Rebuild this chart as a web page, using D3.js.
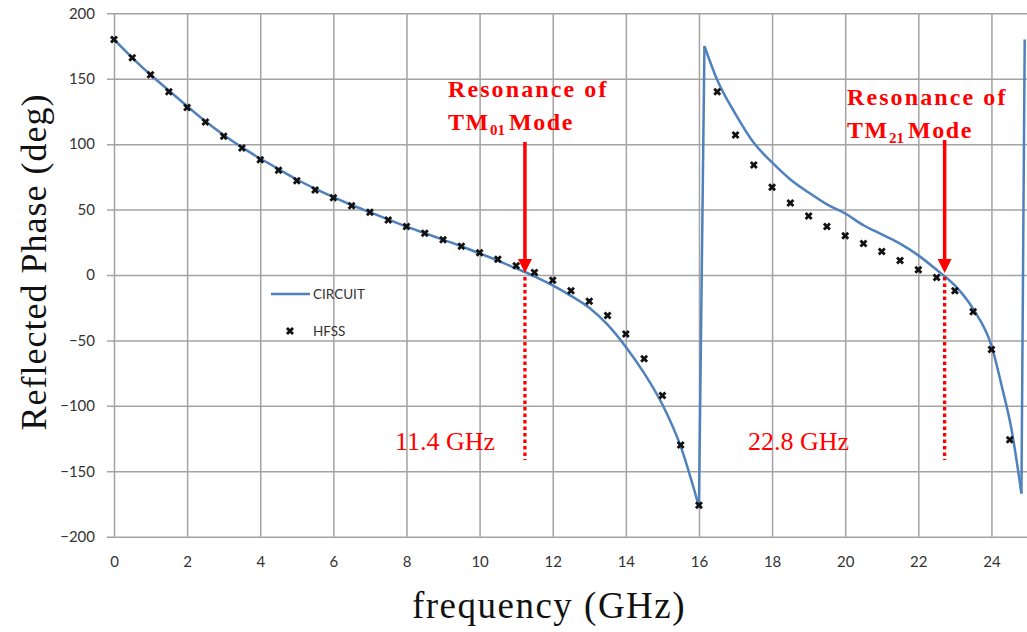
<!DOCTYPE html>
<html><head><meta charset="utf-8">
<script src="https://cdn.jsdelivr.net/npm/d3@7"></script>
<style>body{margin:0;background:#fff}svg{display:block}</style>
</head><body>
<svg id="c" width="1027" height="632"></svg>
<script>
// ---- data ----
const xTicks = [0,2,4,6,8,10,12,14,16,18,20,22,24];
const yTicks = [-200,-150,-100,-50,0,50,100,150,200];
const circuitFreq = [0,0.5,1,1.5,2,2.5,3,3.5,4,4.5,5,5.5,6,6.5,7,7.5,8,8.5,9,9.5,10,10.5,11,11.5,12,12.5,13,13.5,14,14.5,15,15.5,16,
  16.15,16.5,17,17.5,18,18.5,19,19.5,20,20.5,21,21.5,22,22.5,23,23.5,24,24.3,24.55,24.82,24.91];
const circuitPhase = [180,166,153,141,129,117.5,107,97.5,89,81,73,66,59.5,53.5,48,42.5,37,32,27,22,16.5,11,5,-1,-8,-16,-25,-38,-55,-75,-99,-131,-177,
  175,149,123,101,86,73,63,54,47,38,31,24,15,4,-8,-26,-54,-87,-118,-167,180];
const hfssFreq = [0,0.5,1,1.5,2,2.5,3,3.5,4,4.5,5,5.5,6,6.5,7,7.5,8,8.5,9,9.5,10,10.5,11,11.5,12,12.5,13,13.5,14,14.5,15,15.5,16,
  16.5,17,17.5,18,18.5,19,19.5,20,20.5,21,21.5,22,22.5,23,23.5,24,24.5];
const hfssPhase = [180,166,153,140,128,117,106,97,88,80,72,65,59,53,48,42,37,32,27,22,17,12,7,2,-4,-12,-20,-31,-45,-64,-92,-130,-176,
  140,107,84,67,55,45,37,30,24,18,11,4,-2,-12,-28,-57,-126];
const resonances = [11.24, 22.72];
const resLabels = ["11.4 GHz", "22.8 GHz"];
const modeSubs = ["01", "21"];
const seriesNames = ["CIRCUIT", "HFSS"];

// ---- layout ----
const svg = d3.select("#c");
const L = 114, R = 1028, T = 13.3, B = 536.7;
const x = d3.scaleLinear([0,25],[L,R]);
const y = d3.scaleLinear([-200,200],[B,T]);
const grid = "#a3a3a3";
const tickFont = "Lato, 'Open Sans', sans-serif";
const serif = "'Liberation Serif','Times New Roman',serif";

svg.append("defs").append("clipPath").attr("id","pc")
  .append("rect").attr("x",L).attr("y",0).attr("width",R-L).attr("height",B+2);

// y axis + horizontal grid
const ga = svg.append("g").attr("transform",`translate(${L},0)`)
  .call(d3.axisLeft(y).tickValues(yTicks).tickSizeInner(-(R-L)).tickSizeOuter(0).tickPadding(19).tickFormat(d3.format("d")));
ga.select(".domain").remove();
ga.selectAll(".tick line").attr("x1",-7).attr("stroke",grid).attr("stroke-width",1.5);
ga.selectAll(".tick text").attr("font-family",tickFont).attr("font-size",15).attr("fill","#333");

// x axis + vertical grid
const gx = svg.append("g").attr("transform",`translate(0,${B})`)
  .call(d3.axisBottom(x).tickValues(xTicks).tickSizeInner(-(B-T)).tickSizeOuter(0).tickPadding(20).tickFormat(d3.format("d")));
gx.select(".domain").remove();
gx.selectAll(".tick line").attr("stroke",grid).attr("stroke-width",1.5);
gx.selectAll(".tick text").attr("font-family",tickFont).attr("font-size",15).attr("fill","#333");

// axis titles
svg.append("text").attr("x",549).attr("y",618).attr("text-anchor","middle")
  .attr("font-family",serif).attr("font-size",37).attr("letter-spacing",1.5).attr("fill","#111")
  .text("frequency (GHz)");
svg.append("text").attr("transform","translate(46,262) rotate(-90)").attr("text-anchor","middle")
  .attr("font-family",serif).attr("font-size",36).attr("letter-spacing",1).attr("fill","#111")
  .text("Reflected Phase (deg)");

// circuit line: continuous branches drawn smooth, wrap-around jumps drawn straight
const circuit = circuitFreq.map((f,i)=>({f, p:circuitPhase[i]}));
const hfss = hfssFreq.map((f,i)=>({f, p:hfssPhase[i]}));
const branches = [[circuit[0]]];
const jumps = [];
for (let i=1;i<circuit.length;i++){
  if (circuit[i].p - circuit[i-1].p > 100){ jumps.push([circuit[i-1],circuit[i]]); branches.push([circuit[i]]); }
  else branches[branches.length-1].push(circuit[i]);
}
const lineColor = "#4f81bd";
const gl = svg.append("g").attr("clip-path","url(#pc)").attr("fill","none").attr("stroke",lineColor)
  .attr("stroke-width",2.5).attr("stroke-linejoin","round");
gl.selectAll("path.b").data(branches).join("path").attr("class","b")
  .attr("d", d3.line().x(d=>x(d.f)).y(d=>y(d.p)).curve(d3.curveMonotoneX));
gl.selectAll("path.j").data(jumps).join("path").attr("class","j")
  .attr("d", d3.line().x(d=>x(d.f)).y(d=>y(d.p)));

// hfss markers
const sym = d3.symbol().type(d3.symbolCross).size(40);
svg.append("g").selectAll("path").data(hfss).join("path")
  .attr("d", sym).attr("transform",d=>`translate(${x(d.f)},${y(d.p)}) rotate(45)`)
  .attr("fill","#111");

// legend
svg.append("line").attr("x1",271).attr("x2",310).attr("y1",294).attr("y2",294)
  .attr("stroke",lineColor).attr("stroke-width",2.5);
svg.append("path").attr("d",sym).attr("transform","translate(290,331) rotate(45)").attr("fill","#111");
svg.selectAll(".lg").data(seriesNames).join("text").attr("class","lg")
  .attr("x",313).attr("y",(d,i)=>299+i*37).attr("font-family",tickFont).attr("font-size",13.5).attr("fill","#333").text(d=>d);

// annotations
const red = "#ff0000";
const titlePos = [{x:448, y1:97, y2:130},{x:847, y1:105, y2:138}];
resonances.forEach((f,i)=>{
  const xp = x(f);
  const tp = titlePos[i];
  svg.append("text").attr("x",tp.x).attr("y",tp.y1).attr("font-family",serif).attr("font-weight","bold")
    .attr("font-size",24).attr("letter-spacing",2.1).attr("fill",red).text("Resonance of");
  const t2 = svg.append("text").attr("x",tp.x).attr("y",tp.y2).attr("font-family",serif).attr("font-weight","bold")
    .attr("font-size",24).attr("letter-spacing",1.6).attr("fill",red);
  t2.append("tspan").text("TM");
  t2.append("tspan").attr("font-size",15).attr("dy",5).attr("letter-spacing",0).text(modeSubs[i]);
  t2.append("tspan").attr("dy",-5).attr("dx",4).text("Mode");
  const top = i===0 ? 142 : 140;
  svg.append("line").attr("x1",xp).attr("x2",xp).attr("y1",top).attr("y2",y(0)-14)
    .attr("stroke",red).attr("stroke-width",3.5);
  svg.append("path").attr("d",`M${xp-7},${y(0)-16} L${xp+7},${y(0)-16} L${xp},${y(0)-2} Z`).attr("fill",red);
  svg.append("line").attr("x1",xp).attr("x2",xp).attr("y1",y(0)+2).attr("y2",460)
    .attr("stroke",red).attr("stroke-width",3.3).attr("stroke-dasharray","3.5,3");
  svg.append("text").attr("x", i===0 ? 395 : 748).attr("y",450).attr("font-family",serif)
    .attr("font-size",26).attr("fill",red).text(resLabels[i]);
});
</script>
</body></html>
